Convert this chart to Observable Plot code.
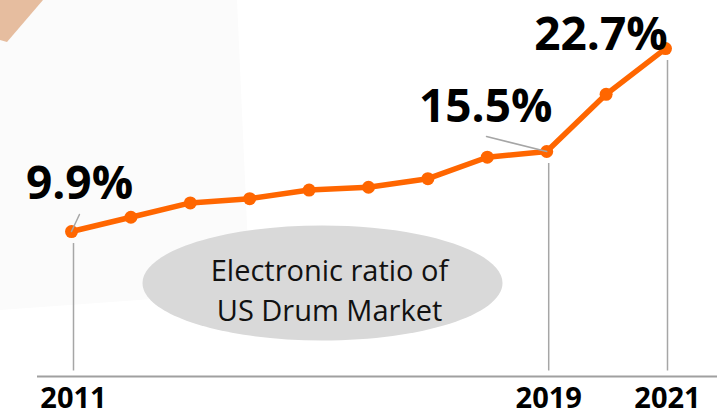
<!DOCTYPE html>
<html><head><meta charset="utf-8">
<script src="https://cdn.jsdelivr.net/npm/d3@7"></script>
<script src="https://cdn.jsdelivr.net/npm/@observablehq/plot@0.6"></script>
<style>
html,body{margin:0;padding:0;background:#fff;}
#wrap{position:relative;width:717px;height:414px;overflow:hidden;}
#bg{position:absolute;left:0;top:0;}
#chart{position:absolute;left:0;top:0;}
</style></head><body>
<div id="wrap">
<svg id="bg" width="717" height="414">
<polygon points="0,0 237,0 250,292 0,310" fill="#fbfbfb"/>
<polygon points="0,0 43,0 7,42 0,40" fill="#e6bd9f"/>
</svg>
<div id="chart"></div>
</div>
<script>
const years = [2011, 2012, 2013, 2014, 2015, 2016, 2017, 2018, 2019, 2020, 2021];
const ratios = [9.9, 10.9, 11.9, 12.2, 12.8, 13.0, 13.6, 15.1, 15.5, 19.5, 22.7];
const labelYears = [2011, 2019, 2021];
const noteLines = ["Electronic ratio of", "US Drum Market"];

const data = years.map((year, i) => ({year, value: ratios[i]}));
const pick = y => data.filter(d => d.year === y);
const labelData = data.filter(d => labelYears.includes(d.year));
const fmt = d => d3.format(".1f")(d.value) + "%";

const FONT = "'Open Sans', sans-serif";
const ORANGE = "#ff6600";
const GREY = "#a6a6a6";

const lineShape = {draw(context, l) { context.moveTo(0, 0); context.lineTo(0, -l); }};
const k = 0.5523;
const ellipse = {draw(context) {
  const rx = 180, ry = 57.5;
  context.moveTo(-rx, 0);
  context.bezierCurveTo(-rx, -k * ry, -k * rx, -ry, 0, -ry);
  context.bezierCurveTo(k * rx, -ry, rx, -k * ry, rx, 0);
  context.bezierCurveTo(rx, k * ry, k * rx, ry, 0, ry);
  context.bezierCurveTo(-k * rx, ry, -rx, k * ry, -rx, 0);
  context.closePath();
}};

const valueLabel = (year, dx, dy) => Plot.text(pick(year), {
  x: "year", y: "value", text: fmt, dx, dy,
  lineAnchor: "bottom", textAnchor: "middle",
  fontSize: 46, fontWeight: "bold", fontFamily: FONT, fill: "#000"
});

const chart = Plot.plot({
  width: 717,
  height: 414,
  marginLeft: 37, marginRight: 0, marginTop: 0, marginBottom: 0,
  style: {background: "transparent", fontFamily: FONT, overflow: "visible"},
  x: {domain: [2011, 2021], range: [71, 665], axis: null},
  y: {domain: [0, 25], range: [372.5, 15.25], axis: null},
  marks: [
    Plot.dot([0], {frameAnchor: "top-left", dx: 285, dy: 282.5, symbol: ellipse, r: 1, fill: "#d9d9d9", stroke: "none"}),
    Plot.text([noteLines.join("\n")], {
      frameAnchor: "top-left", dx: 292, dy: 252, text: d => d,
      lineAnchor: "top", textAnchor: "middle", lineHeight: 40 / 29,
      fontSize: 29, fontFamily: FONT, fill: "#111"
    }),
    Plot.ruleY([0], {dy: 3.5, stroke: "#a0a0a0", strokeWidth: 2}),
    Plot.ruleX(labelData, {x: "year", y1: "value", y2: 0, insetTop: 12, insetBottom: 2, dx: 2, stroke: GREY, strokeWidth: 1.5}),
    Plot.line(data, {x: "year", y: "value", stroke: ORANGE, strokeWidth: 5.5}),
    Plot.dot(data, {x: "year", y: "value", r: 6.5, fill: ORANGE}),
    Plot.vector(pick(2011), {x: "year", y: "value", length: 18.8, rotate: 25, anchor: "start", shape: lineShape, stroke: GREY, strokeWidth: 1.5}),
    Plot.vector(pick(2019), {x: "year", y: "value", length: 62, rotate: -76, anchor: "start", shape: lineShape, stroke: GREY, strokeWidth: 1.5}),
    valueLabel(2011, 8, -33),
    valueLabel(2019, -61, -30),
    valueLabel(2021, -64.5, 1),
    Plot.text(labelYears, {
      x: d => d, frameAnchor: "bottom", dx: 2, dy: -7, text: d => String(d),
      lineAnchor: "bottom", textAnchor: "middle",
      fontSize: 29, fontWeight: "bold", fontFamily: FONT, fill: "#000"
    })
  ]
});
document.getElementById("chart").appendChild(chart);
</script>
</body></html>
